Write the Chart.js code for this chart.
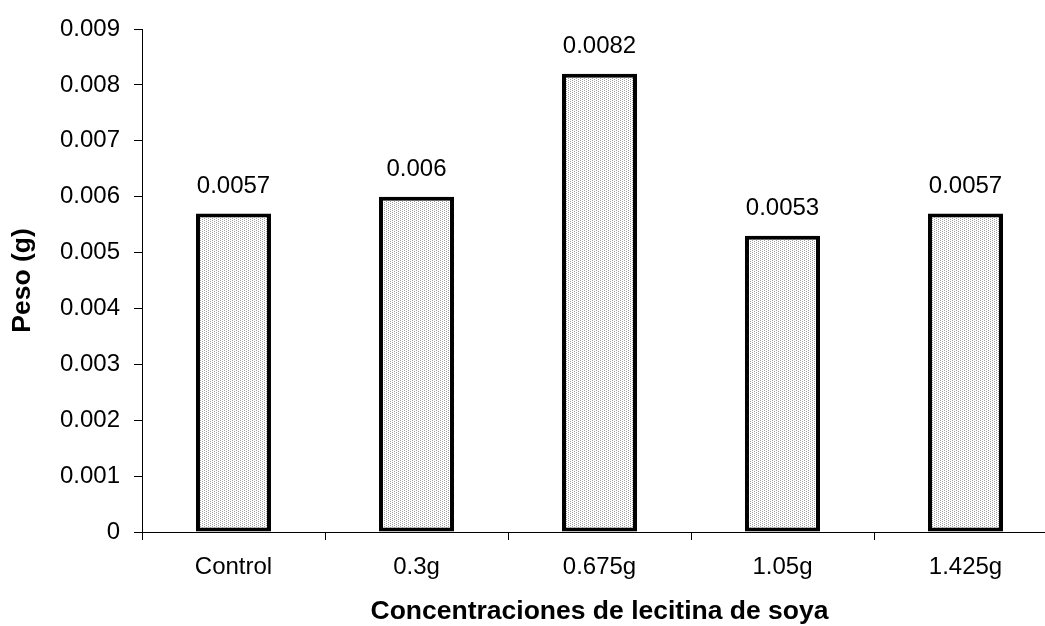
<!DOCTYPE html>
<html>
<head>
<meta charset="utf-8">
<script src="https://cdn.jsdelivr.net/npm/chart.js@4"></script>
<style>
    html, body { margin: 0; padding: 0; background: #fff; overflow: hidden; }
    #wrap { width: 1057px; height: 626px; position: relative; }
</style>
</head>
<body>
<div id="wrap"><canvas id="pesoChart"></canvas></div>
<script>
// Chart data
const categories = ['Control', '0.3g', '0.675g', '1.05g', '1.425g'];
const pesoValues = [0.0057, 0.006, 0.0082, 0.0053, 0.0057];
const valueLabels = ['0.0057', '0.006', '0.0082', '0.0053', '0.0057'];

const FONT = '"Liberation Sans", Arial, sans-serif';

// Dotted fill like the original
function makeDotPattern() {
    const c = document.createElement('canvas');
    c.width = 4;
    c.height = 2;
    const g = c.getContext('2d');
    g.fillStyle = '#ffffff';
    g.fillRect(0, 0, 4, 2);
    g.fillStyle = '#a0a0a0';
    g.fillRect(0, 0, 1, 1);
    g.fillRect(2, 1, 1, 1);
    return g.createPattern(c, 'repeat');
}

// Value labels above each bar
const valueLabelPlugin = {
    id: 'valueLabels',
    afterDatasetsDraw(chart) {
        const ctx = chart.ctx;
        const meta = chart.getDatasetMeta(0);
        ctx.save();
        ctx.font = '24px ' + FONT;
        ctx.fillStyle = '#000';
        ctx.textAlign = 'center';
        ctx.textBaseline = 'middle';
        meta.data.forEach((bar, i) => {
            ctx.fillText(valueLabels[i], bar.x, bar.y - 27);
        });
        ctx.restore();
    }
};

const ctx = document.getElementById('pesoChart').getContext('2d');
new Chart(ctx, {
    type: 'bar',
    data: {
        labels: categories,
        datasets: [{
            data: pesoValues,
            backgroundColor: makeDotPattern(),
            borderColor: '#000',
            borderWidth: 4,
            borderSkipped: false,
            categoryPercentage: 1,
            barPercentage: 0.41
        }]
    },
    options: {
        responsive: true,
        maintainAspectRatio: false,
        animation: false,
        layout: { padding: { top: 29, left: 0, right: 0, bottom: 0 } },
        plugins: {
            legend: { display: false },
            tooltip: { enabled: false }
        },
        scales: {
            x: {
                grid: { drawOnChartArea: false, drawTicks: true, tickLength: 8, color: '#000' },
                border: { color: '#000', width: 1 },
                ticks: {
                    color: '#000',
                    padding: 13,
                    font: { family: FONT, size: 24 }
                },
                title: {
                    display: true,
                    text: 'Concentraciones de lecitina de soya',
                    color: '#000',
                    padding: { top: 0, bottom: -2 },
                    font: { family: FONT, size: 26.5, weight: 'bold' }
                },
                afterFit(scale) { scale.height = 94; }
            },
            y: {
                min: 0,
                max: 0.009,
                grid: { drawOnChartArea: false, drawTicks: true, tickLength: 8, color: '#000' },
                border: { color: '#000', width: 1 },
                ticks: {
                    stepSize: 0.001,
                    color: '#000',
                    padding: 14,
                    font: { family: FONT, size: 24 },
                    callback: function (value) {
                        return String(+value.toFixed(3));
                    }
                },
                title: {
                    display: true,
                    text: 'Peso (g)',
                    color: '#000',
                    padding: { top: 7, bottom: 0 },
                    font: { family: FONT, size: 26.5, weight: 'bold' }
                },
                afterFit(scale) { scale.width = 142; }
            }
        }
    },
    plugins: [valueLabelPlugin]
});
</script>
</body>
</html>
